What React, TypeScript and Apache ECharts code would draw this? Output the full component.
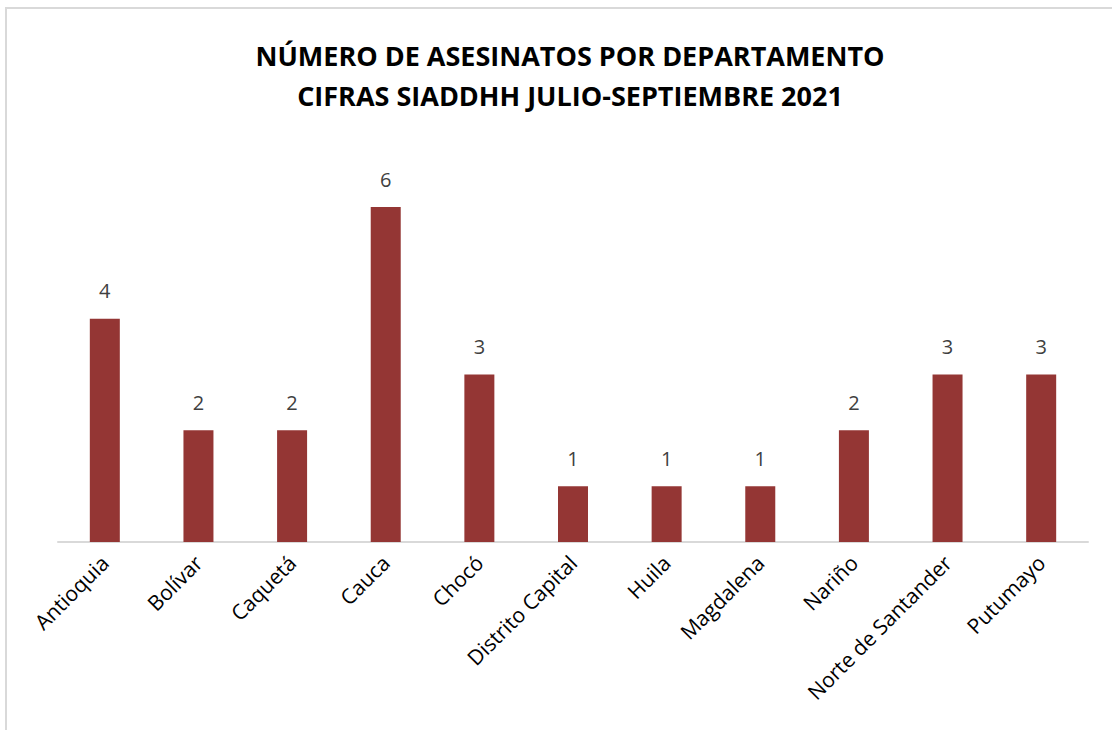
import React, { useEffect, useRef } from "react";
import * as echarts from "echarts";

const categories = [
  "Antioquia",
  "Bolívar",
  "Caquetá",
  "Cauca",
  "Chocó",
  "Distrito Capital",
  "Huila",
  "Magdalena",
  "Nariño",
  "Norte de Santander",
  "Putumayo",
];
const values = [4, 2, 2, 6, 3, 1, 1, 1, 2, 3, 3];
const titleLines = [
  "NÚMERO DE ASESINATOS POR DEPARTAMENTO",
  "CIFRAS SIADDHH JULIO-SEPTIEMBRE 2021",
];

export default function App() {
  const ref = useRef<HTMLDivElement>(null);
  useEffect(() => {
    document.body.style.margin = "0";
    const chart = echarts.init(ref.current!, null, { renderer: "svg" });
    const font = "'Open Sans', 'Noto Sans', sans-serif";
    chart.setOption({
      animation: false,
      backgroundColor: "#ffffff",
      title: {
        text: titleLines.join("\n"),
        left: 565,
        textAlign: "center",
        top: 30,
        textStyle: {
          fontFamily: font,
          fontWeight: "bold",
          fontSize: 27,
          lineHeight: 40,
          color: "#000000",
        },
      },
      graphic: [
        {
          type: "rect",
          shape: { x: 6, y: 8, width: 1200, height: 800 },
          style: { fill: "none", stroke: "#d9d9d9", lineWidth: 2 },
          silent: true,
        },
      ],
      grid: { left: 58, right: 24, top: 207, bottom: 188, containLabel: false },
      xAxis: {
        type: "category",
        data: categories,
        axisLine: { show: true, lineStyle: { color: "#d9d9d9", width: 2 } },
        axisTick: { show: false },
        axisLabel: {
          rotate: 45,
          interval: 0,
          margin: 17,
          fontFamily: font,
          fontSize: 21,
          color: "#000000",
        },
      },
      yAxis: {
        type: "value",
        min: 0,
        max: 6,
        show: false,
        splitLine: { show: false },
      },
      series: [
        {
          type: "bar",
          data: values,
          barWidth: 30,
          itemStyle: { color: "#943634" },
          label: {
            show: true,
            position: "top",
            distance: 18,
            fontFamily: font,
            fontSize: 20,
            color: "#404040",
          },
        },
      ],
    });
    return () => chart.dispose();
  }, []);
  return (
    <div
      ref={ref}
      style={{ position: "absolute", left: 0, top: 0, width: 1112, height: 730 }}
    />
  );
}
